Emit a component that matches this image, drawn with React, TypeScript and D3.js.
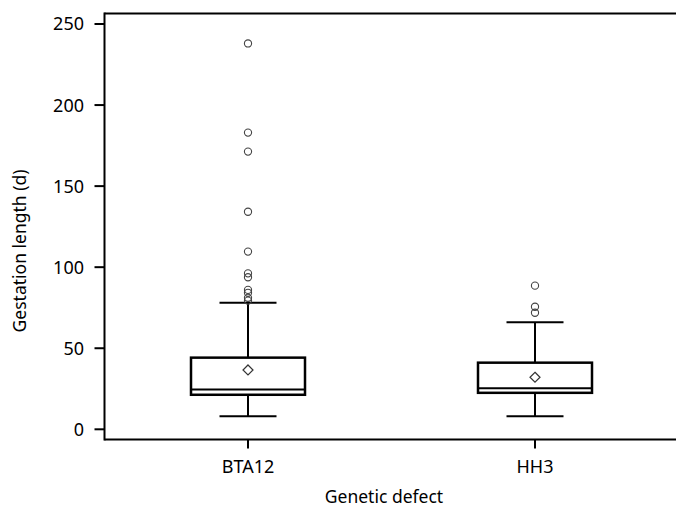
import { useEffect, useRef } from "react";
import * as d3 from "d3";

const categories = ["BTA12", "HH3"];
const lowerWhisker = [8, 8];
const q1 = [21.3, 22.5];
const median = [24.6, 25.3];
const q3 = [44.2, 41.1];
const upperWhisker = [78, 66];
const means = [36.6, 32.1];
const outliersBTA12 = [238, 183, 171.3, 134.2, 109.6, 96.2, 93.8, 86, 84.2, 81.1, 79.4];
const outliersHH3 = [88.6, 75.6, 71.9];
const yTicks = [0, 50, 100, 150, 200, 250];

const W = 676;
const H = 510;

function App() {
  const ref = useRef<SVGSVGElement>(null);

  useEffect(() => {
    const svg = d3.select(ref.current);
    svg.selectAll("*").remove(); // Clear before redraw

    const left = 104.5;
    const right = 678.5;
    const top = 13.5;
    const bottom = 439.5;
    const font = "'Noto Sans', sans-serif";

    const x = d3.scalePoint().domain(categories).range([left, right]).padding(0.5);
    const y = d3.scaleLinear().domain([0, 250]).range([429.3, 24]);

    const boxW = 114;
    const capW = 57;
    const outliers = [outliersBTA12, outliersHH3];

    const g = svg.append("g");

    categories.forEach((c, i) => {
      const cx = x(c)!;
      // whisker stems
      g.append("line")
        .attr("x1", cx).attr("x2", cx)
        .attr("y1", y(q3[i])).attr("y2", y(upperWhisker[i]))
        .attr("stroke", "#000").attr("stroke-width", 2);
      g.append("line")
        .attr("x1", cx).attr("x2", cx)
        .attr("y1", y(q1[i])).attr("y2", y(lowerWhisker[i]))
        .attr("stroke", "#000").attr("stroke-width", 2);
      // caps
      [upperWhisker[i], lowerWhisker[i]].forEach((v) => {
        g.append("line")
          .attr("x1", cx - capW / 2).attr("x2", cx + capW / 2)
          .attr("y1", y(v)).attr("y2", y(v))
          .attr("stroke", "#000").attr("stroke-width", 2);
      });
      // box
      g.append("rect")
        .attr("x", cx - boxW / 2)
        .attr("y", y(q3[i]))
        .attr("width", boxW)
        .attr("height", y(q1[i]) - y(q3[i]))
        .attr("fill", "#fff")
        .attr("stroke", "#000")
        .attr("stroke-width", 2.5);
      // median
      g.append("line")
        .attr("x1", cx - boxW / 2).attr("x2", cx + boxW / 2)
        .attr("y1", y(median[i])).attr("y2", y(median[i]))
        .attr("stroke", "#000").attr("stroke-width", 2);
      // mean diamond
      const my = y(means[i]);
      const d = 5;
      g.append("path")
        .attr("d", `M${cx},${my - d}L${cx + d},${my}L${cx},${my + d}L${cx - d},${my}Z`)
        .attr("fill", "none")
        .attr("stroke", "#333")
        .attr("stroke-width", 1.2);
      // outliers
      g.selectAll(null)
        .data(outliers[i])
        .enter()
        .append("circle")
        .attr("cx", cx)
        .attr("cy", (v) => y(v))
        .attr("r", 3.6)
        .attr("fill", "none")
        .attr("stroke", "#444")
        .attr("stroke-width", 1.1);
    });

    // frame (no right side visible)
    const frame = svg.append("g").attr("stroke", "#000").attr("stroke-width", 2).attr("fill", "none");
    frame.append("line").attr("x1", left).attr("x2", W + 2).attr("y1", top).attr("y2", top);
    frame.append("line").attr("x1", left).attr("x2", W + 2).attr("y1", bottom).attr("y2", bottom);
    frame.append("line").attr("x1", left).attr("x2", left).attr("y1", top - 1).attr("y2", bottom + 1);

    // y axis ticks
    yTicks.forEach((t) => {
      svg.append("line")
        .attr("x1", left - 10).attr("x2", left)
        .attr("y1", y(t)).attr("y2", y(t))
        .attr("stroke", "#000").attr("stroke-width", 2);
      svg.append("text")
        .attr("x", 84).attr("y", y(t))
        .attr("dy", "0.36em")
        .attr("text-anchor", "end")
        .style("font-family", font)
        .style("font-size", "18px")
        .text(t);
    });

    // x axis ticks
    categories.forEach((c) => {
      svg.append("line")
        .attr("x1", x(c)!).attr("x2", x(c)!)
        .attr("y1", bottom).attr("y2", bottom + 9)
        .attr("stroke", "#000").attr("stroke-width", 2);
      svg.append("text")
        .attr("x", x(c)!).attr("y", 473)
        .attr("text-anchor", "middle")
        .style("font-family", font)
        .style("font-size", "18px")
        .text(c);
    });

    // axis titles
    svg.append("text")
      .attr("x", 384).attr("y", 503)
      .attr("text-anchor", "middle")
      .style("font-family", font)
      .style("font-size", "17.5px")
      .text("Genetic defect");

    svg.append("text")
      .attr("transform", "translate(26,251) rotate(-90)")
      .attr("text-anchor", "middle")
      .style("font-family", font)
      .style("font-size", "17.5px")
      .text("Gestation length (d)");
  }, []);

  return (
    <div style={{ position: "fixed", left: 0, top: 0, width: W, height: H, overflow: "hidden", background: "#fff" }}>
      <svg ref={ref} width={W} height={H}></svg>
    </div>
  );
}

export default App;
